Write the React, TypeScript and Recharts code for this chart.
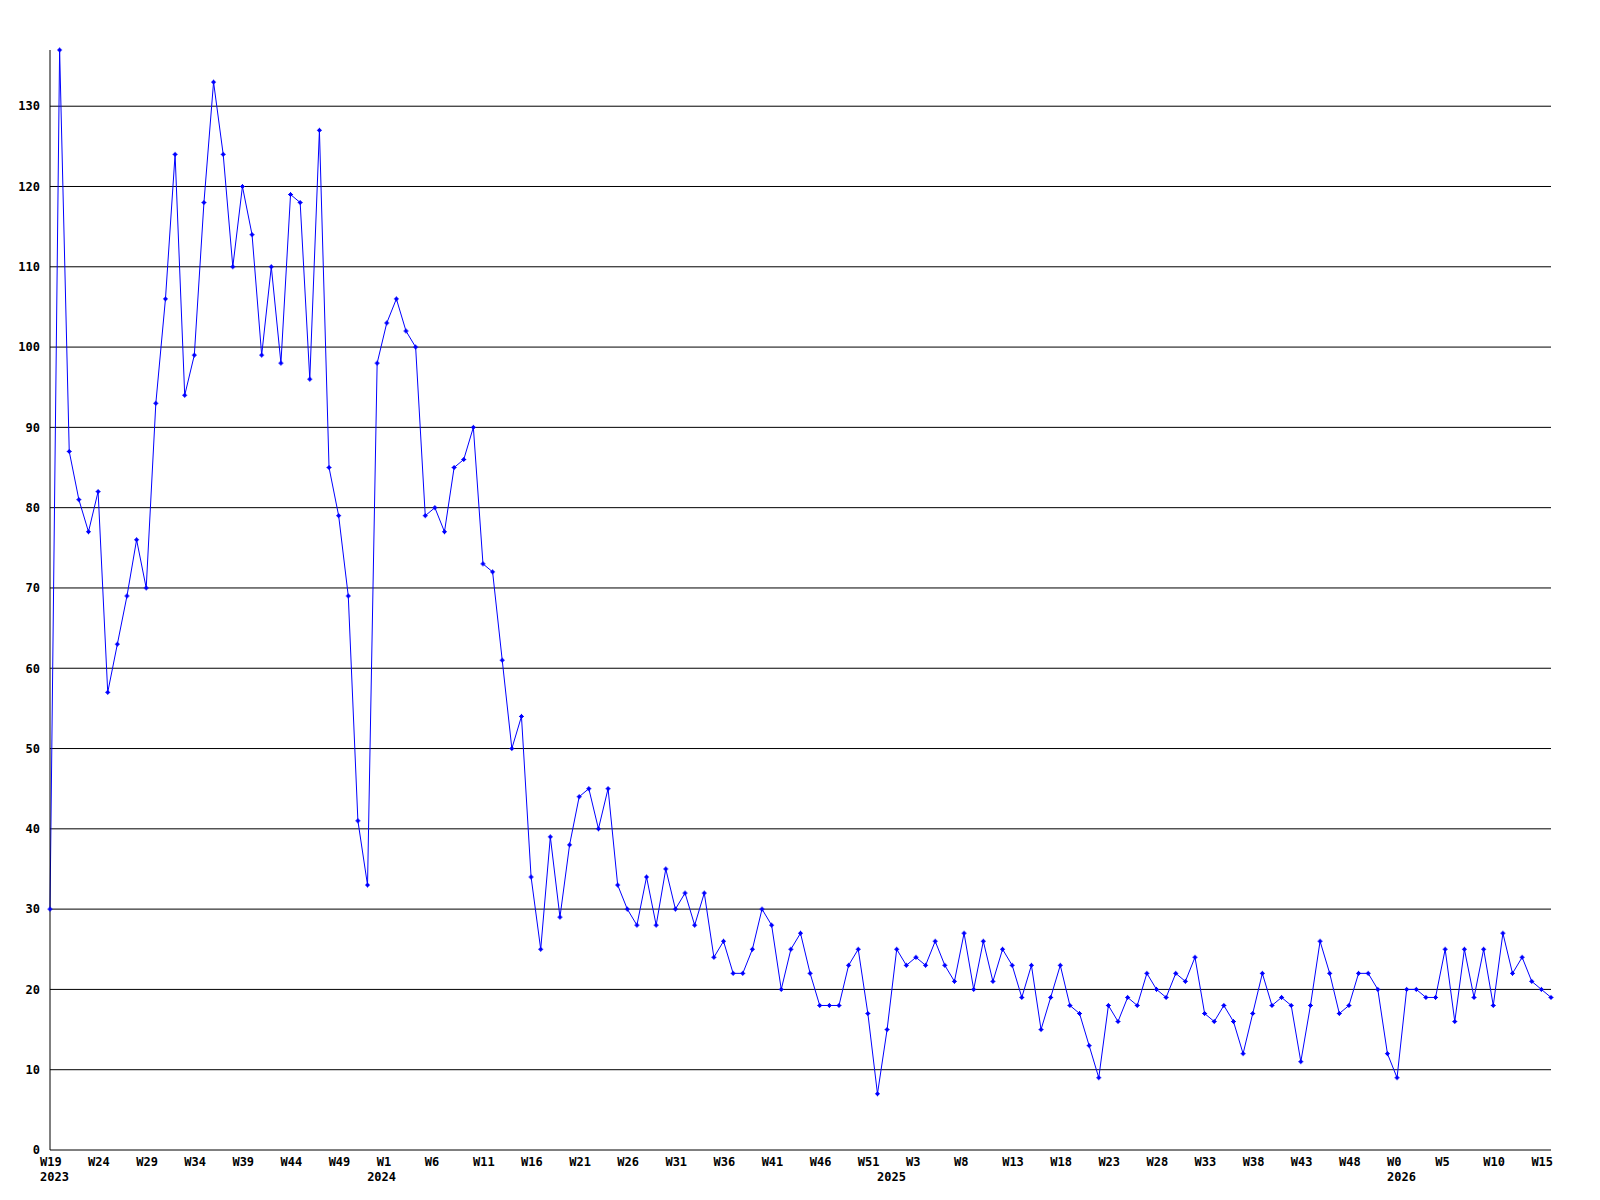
import React from 'react'
import { LineChart, Line, XAxis, YAxis, ReferenceLine } from 'recharts'

// weekly counts, one array per year
const YEARS = [2023, 2024, 2025, 2026]
const FIRST_WEEK = [19, 0, 0, 0]

const VALUES_2023 = [
  30, 137, 87, 81, 77, 82, 57, 63, 69, 76, 70, 93, 106, 124, 94, 99, 118, 133, 124, 110,
  120, 114, 99, 110, 98, 119, 118, 96, 127, 85, 79, 69, 41, 33,
]
const VALUES_2024 = [
  98, 103, 106, 102, 100, 79, 80, 77, 85, 86, 90, 73, 72, 61, 50, 54, 34, 25, 39, 29,
  38, 44, 45, 40, 45, 33, 30, 28, 34, 28, 35, 30, 32, 28, 32, 24, 26, 22, 22, 25,
  30, 28, 20, 25, 27, 22, 18, 18, 18, 23, 25, 17, 7,
]
const VALUES_2025 = [
  15, 25, 23, 24, 23, 26, 23, 21, 27, 20, 26, 21, 25, 23, 19, 23, 15, 19, 23, 18,
  17, 13, 9, 18, 16, 19, 18, 22, 20, 19, 22, 21, 24, 17, 16, 18, 16, 12, 17, 22,
  18, 19, 18, 11, 18, 26, 22, 17, 18, 22, 22, 20, 12,
]
const VALUES_2026 = [9, 20, 20, 19, 19, 25, 16, 25, 19, 25, 18, 27, 22, 24, 21, 20, 19]

const Y_TICKS = [0, 10, 20, 30, 40, 50, 60, 70, 80, 90, 100, 110, 120, 130]
const LABEL_EVERY = 5

const valuesByYear = [VALUES_2023, VALUES_2024, VALUES_2025, VALUES_2026]

const data: { key: string; year: number; week: number; count: number }[] = []
valuesByYear.forEach((vals, yi) => {
  vals.forEach((v, i) => {
    const week = FIRST_WEEK[yi] + i
    data.push({ key: YEARS[yi] + '|W' + week, year: YEARS[yi], week, count: v })
  })
})

const FONT = '"DejaVu Sans Mono", "Liberation Mono", monospace'

function WeekTick(props: any) {
  const { x, y, payload } = props
  const idx = data.findIndex((d) => d.key === payload.value)
  const d = data[idx]
  if (!d) return null
  const showWeek = idx % LABEL_EVERY === 0
  const showYear = idx === 0 || data[idx - 1].year !== d.year
  if (!showWeek && !showYear) return null
  return (
    <g>
      {showWeek && (
        <text x={x - 10} y={y + 16} fontFamily={FONT} fontWeight="bold" fontSize={12} fill="#000">
          {'W' + d.week}
        </text>
      )}
      {showYear && (
        <text x={x - 10} y={y + 31} fontFamily={FONT} fontWeight="bold" fontSize={12} fill="#000">
          {d.year}
        </text>
      )}
    </g>
  )
}

function PlusDot(props: any) {
  const { cx, cy, index } = props
  if (cx == null || cy == null) return <g key={index} />
  return (
    <g key={index} fill="#0000ff">
      <rect x={cx - 2.5} y={cy - 0.5} width={5} height={1} />
      <rect x={cx - 0.5} y={cy - 2.5} width={1} height={5} />
      <rect x={cx - 1.5} y={cy - 1.5} width={3} height={3} />
    </g>
  )
}

export default function App() {
  return (
    <div style={{ width: 1600, height: 1200, background: '#fff' }}>
      <style>{'body{margin:0}'}</style>
      <LineChart width={1600} height={1200} data={data} margin={{ top: 50, right: 49, bottom: 0, left: 0 }}>
        {Y_TICKS.filter((t) => t > 0).map((t) => (
          <ReferenceLine key={t} y={t} stroke="#000" strokeWidth={1} />
        ))}
        <XAxis
          dataKey="key"
          type="category"
          interval={0}
          tickSize={0}
          tickMargin={0}
          height={50}
          stroke="#000"
          tick={<WeekTick />}
          padding={{ left: 0, right: 0 }}
        />
        <YAxis
          domain={[0, 137]}
          ticks={Y_TICKS}
          width={50}
          tickSize={0}
          tickMargin={10}
          stroke="#000"
          tick={{ fontFamily: FONT, fontWeight: 'bold', fontSize: 12, fill: '#000' }}
          interval={0}
        />
        <Line
          type="linear"
          dataKey="count"
          stroke="#0000ff"
          strokeWidth={1}
          dot={<PlusDot />}
          activeDot={false}
          isAnimationActive={false}
        />
      </LineChart>
    </div>
  )
}
